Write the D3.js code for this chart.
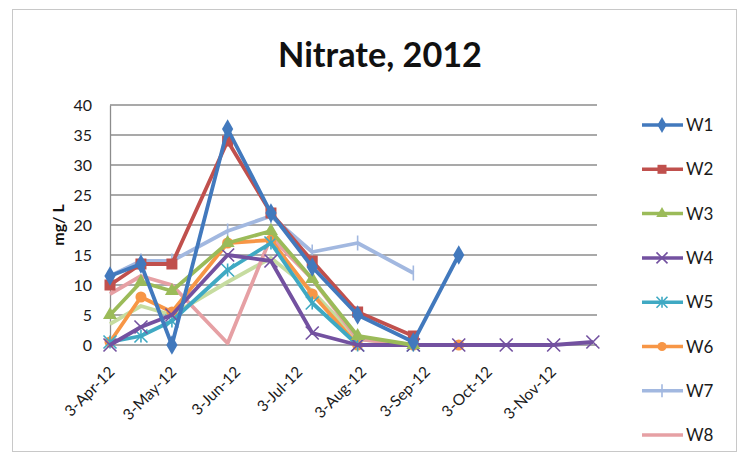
<!DOCTYPE html>
<html><head><meta charset="utf-8">
<script src="https://cdn.jsdelivr.net/npm/d3@7"></script>
<style>body{margin:0;background:#fff}svg{display:block}text{font-family:Lato,"Open Sans",sans-serif}</style>
</head><body><svg id="c" width="743" height="454"></svg>
<script>
const dates = ["2012-04-03","2012-04-18","2012-05-03","2012-05-30","2012-06-20","2012-07-10","2012-08-01","2012-08-28","2012-09-19","2012-10-12","2012-11-04","2012-11-23"];
const tickLabels = ["3-Apr-12","3-May-12","3-Jun-12","3-Jul-12","3-Aug-12","3-Sep-12","3-Oct-12","3-Nov-12"];
const tickDates = ["2012-04-03","2012-05-03","2012-06-03","2012-07-03","2012-08-03","2012-09-03","2012-10-03","2012-11-03"];
const yTicks = [0,5,10,15,20,25,30,35,40];
const seriesNames = ["W1","W2","W3","W4","W5","W6","W7","W8","W9"];
const W1 = [11.5,13.5,0,36,22,13,5,0.5,15,null,null,null];
const W2 = [10,13.5,13.5,34,22,14,5.5,1.5,null,null,null,null];
const W3 = [5,10.5,9,17,19,11,1.5,0,null,null,null,null];
const W4 = [0,3,5,15,14,2,0,0,0,0,0,0.5];
const W5 = [0.5,1.5,4,12.5,17,7,0,0,null,null,null,null];
const W6 = [0.5,8,5.5,17,17.5,8.5,0,0,0,null,null,null];
const W7 = [11.5,14,14,19,21.5,15.5,17,12,null,null,null,null];
const W8 = [8.5,11.5,10,0.3,18,11,1,0,null,null,null,null];
const W9 = [3.5,6.5,5,10.5,14.5,9,1,0,null,null,null,null];
const colors = ["#4279BD","#C0504D","#9BBB59","#7351A0","#3FA9C3","#F79646","#A2B8E0","#E6A0A4","#C6DCA0"];
const markers = ["diamond","square","triangle","x","star","circle","plus","none","none"];

const values = [W1,W2,W3,W4,W5,W6,W7,W8,W9];
const parse = d3.timeParse("%Y-%m-%d");
const svg = d3.select("#c");

svg.append("rect").attr("x",12.5).attr("y",9.5).attr("width",724).attr("height",442)
  .attr("fill","#fff").attr("stroke","#c8c8c8").attr("stroke-width",1);

const x = d3.scaleTime().domain([parse("2012-04-03"), parse("2012-11-25")]).range([110,597]);
const y = d3.scaleLinear().domain([0,40]).range([345,105]);

// gridlines
svg.append("g").selectAll("line").data(yTicks).join("line")
  .attr("x1",110).attr("x2",597).attr("y1",d=>y(d)).attr("y2",d=>y(d))
  .attr("stroke","#8c8c8c").attr("stroke-width",1.3);

// y axis
const ya = svg.append("g").attr("transform","translate(110,0)")
  .call(d3.axisLeft(y).tickValues(yTicks).tickSize(0).tickPadding(18));
ya.select(".domain").attr("stroke","#8c8c8c").attr("stroke-width",1.3);
ya.selectAll("text").attr("font-size",16).attr("fill","#1a1a1a").attr("font-family","Lato, sans-serif");

// x axis
const xa = svg.append("g").attr("transform","translate(0,345)")
  .call(d3.axisBottom(x).tickValues(tickDates.map(parse)).tickFormat((d,i)=>tickLabels[i]).tickSize(0).tickPadding(0));
xa.select(".domain").remove();
xa.selectAll("text").attr("font-size",15.5).attr("fill","#1a1a1a").attr("font-family","Lato, sans-serif")
  .attr("text-anchor","end").attr("dy",0).attr("y",0)
  .attr("transform","translate(5,28) rotate(-45)");

// title
svg.append("text").attr("x",380).attr("y",67).attr("text-anchor","middle")
  .attr("font-size",34).attr("font-weight","bold").attr("fill","#111")
  .attr("textLength",204).attr("lengthAdjust","spacingAndGlyphs").text("Nitrate, 2012");
svg.append("text").attr("transform","translate(64,225) rotate(-90)").attr("text-anchor","middle")
  .attr("font-size",16).attr("font-weight","bold").attr("fill","#111").text("mg/ L");

function drawMarker(g, type, color, s){
  if(type==="diamond"){ g.append("path").attr("d",d3.symbol(d3.symbolDiamond, s*s*0.9)()).attr("fill",color); }
  else if(type==="square"){ g.append("rect").attr("x",-s/2).attr("y",-s/2).attr("width",s).attr("height",s).attr("fill",color); }
  else if(type==="triangle"){ g.append("path").attr("d",d3.symbol(d3.symbolTriangle, s*s*0.7)()).attr("fill",color); }
  else if(type==="circle"){ g.append("circle").attr("r",s/2).attr("fill",color); }
  else if(type==="x"){ const h=s/2+1; g.append("path").attr("d",`M${-h},${-h}L${h},${h}M${-h},${h}L${h},${-h}`).attr("stroke",color).attr("stroke-width",1.6); }
  else if(type==="star"){ const h=s/2+1; g.append("path").attr("d",`M${-h},${-h}L${h},${h}M${-h},${h}L${h},${-h}M0,${-h}L0,${h}`).attr("stroke",color).attr("stroke-width",1.6); }
  else if(type==="plus"){ const h=s/2+2; g.append("path").attr("d",`M0,${-h}L0,${h}`).attr("stroke",color).attr("stroke-width",1.6); }
}

const line = d3.line().defined(d=>d.v!==null).x(d=>x(d.t)).y(d=>y(d.v));
for(let k=values.length-1;k>=0;k--){
  const pts = values[k].map((v,i)=>({t:parse(dates[i]), v}));
  svg.append("path").datum(pts).attr("d",line).attr("fill","none")
    .attr("stroke",colors[k]).attr("stroke-width",3.8).attr("stroke-linejoin","round");
  pts.filter(p=>p.v!==null).forEach(p=>{
    const g = svg.append("g").attr("transform",`translate(${x(p.t)},${y(p.v)})`);
    drawMarker(g, markers[k], colors[k], 11);
  });
}

// legend (only first 8 visible, as in the reference)
const leg = svg.append("g");
seriesNames.slice(0,8).forEach((n,i)=>{
  const ly = 125 + i*44.3;
  leg.append("line").attr("x1",642).attr("x2",683).attr("y1",ly).attr("y2",ly)
    .attr("stroke",colors[i]).attr("stroke-width",3.5);
  const g = leg.append("g").attr("transform",`translate(662,${ly})`);
  drawMarker(g, markers[i], colors[i], 9);
  leg.append("text").attr("x",686).attr("y",ly+6).attr("font-size",17).attr("fill","#1a1a1a").text(n);
});
</script></body></html>
